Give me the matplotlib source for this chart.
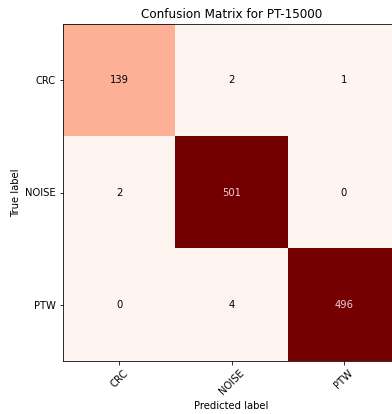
import numpy as np
import matplotlib
matplotlib.use("Agg")
import matplotlib.pyplot as plt
from matplotlib.colors import LinearSegmentedColormap

classes = ["CRC", "NOISE", "PTW"]
cm = np.array([[139, 2, 1],
               [2, 501, 0],
               [0, 4, 496]])
title = "Confusion Matrix for PT-15000"

# Reds, with the dark end pulled toward the plain maroon of the reference
reds = plt.cm.Reds(np.linspace(0, 1, 256))
reds[-40:, :3] = np.linspace(reds[-40, :3], [0.45, 0.0, 0.0], 40)
cmap = LinearSegmentedColormap.from_list("reds_ref", reds)

fig = plt.figure(figsize=(392 / 72, 414 / 72), dpi=72)
ax = fig.add_axes([63 / 392, (414 - 361) / 414, 337 / 392, 337 / 414])
ax.imshow(cm, interpolation="nearest", cmap=cmap, aspect="auto")
ax.set_title(title)

tick_marks = np.arange(len(classes))
ax.set_xticks(tick_marks)
ax.set_xticklabels(classes, rotation=45)
ax.set_yticks(tick_marks)
ax.set_yticklabels(classes)

thresh = cm.max() / 2.
for i in range(cm.shape[0]):
    for j in range(cm.shape[1]):
        ax.text(j, i, format(cm[i, j], "d"),
                horizontalalignment="center", verticalalignment="center",
                color="#f0d0d4" if cm[i, j] > thresh else "black")

ax.set_ylabel("True label")
ax.set_xlabel("Predicted label")
fig.savefig("out.png", dpi=72)
